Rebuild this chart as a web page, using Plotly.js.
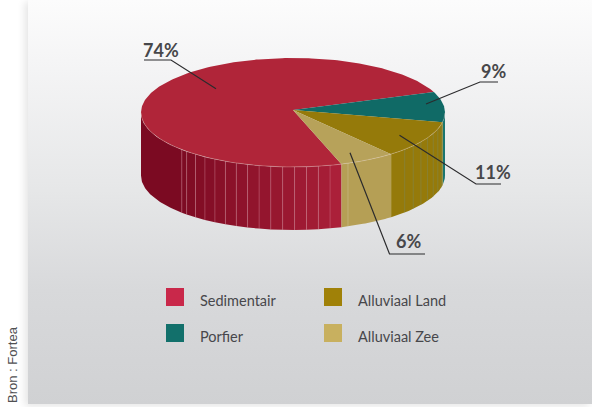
<!DOCTYPE html>
<html><head><meta charset="utf-8">
<script src="https://cdn.plot.ly/plotly-3.0.1.min.js"></script>
<style>
html,body{margin:0;padding:0;background:#fff;overflow:hidden}
#panel{position:absolute;left:28px;top:0;width:564px;height:404px;
background:linear-gradient(to bottom,#fcfcfc 0px,#f5f5f6 60px,#e6e7e8 190px,#d8d9db 290px,#d0d1d3 404px);
box-shadow:-3px 2px 8px rgba(0,0,0,.11)}
#chart{position:absolute;left:0;top:0;width:592px;height:407px}
</style></head><body>
<div id="panel"></div><div id="chart"></div>
<script>
const categories = ["Sedimentair", "Porfier", "Alluviaal Land", "Alluviaal Zee"];
const shares = [74, 9, 11, 6];
const shareLabels = ["74%", "9%", "11%", "6%"];
const topColors = ["#b02539", "#106a66", "#957a0a", "#b7a25a"];
const keyColors = ["#c9284a", "#12706b", "#a08108", "#c8b05f"];

const W = 592, H = 407;
const cx = 293, cy = 112.5, rx = 152, ry = 54.5, depth = 63;
const apexY = 110, startAngle = 71.4;
const rad = d => d * Math.PI / 180;
const total = shares.reduce((a, b) => a + b, 0);
const ex = a => cx + rx * Math.cos(rad(a));
const ey = (a, off) => cy + ry * Math.sin(rad(a)) + (off || 0);

function arc(a1, a2, off) {
  const xs = [], ys = [], n = Math.max(2, Math.ceil(Math.abs(a2 - a1)));
  for (let i = 0; i <= n; i++) { const a = a1 + (a2 - a1) * i / n; xs.push(ex(a)); ys.push(ey(a, off)); }
  return [xs, ys];
}
const traces = [];
function poly(xs, ys, color) {
  traces.push({type: "scatter", mode: "lines", x: xs, y: ys, fill: "toself", fillcolor: color,
    line: {width: 0, color: color}, hoverinfo: "skip", showlegend: false});
}
function stroke(xs, ys, color, w) {
  traces.push({type: "scatter", mode: "lines", x: xs, y: ys, line: {width: w, color: color},
    hoverinfo: "skip", showlegend: false});
}
function wall(a1, a2, color) {
  const t = arc(a1, a2, 0), b = arc(a2, a1, depth);
  poly(t[0].concat(b[0], [t[0][0]]), t[1].concat(b[1], [t[1][0]]), color);
}
function seam(a, color) { stroke([ex(a), ex(a)], [ey(a, 0), ey(a, depth)], color, 1); }
function mix(c1, c2, t) { return "rgb(" + c1.map((v, i) => Math.round(v + (c2[i] - v) * t)).join(",") + ")"; }

// slice boundaries, clockwise on screen
const bounds = []; let acc = startAngle;
shares.forEach(v => { const s = v / total * 360; bounds.push([acc, acc + s]); acc += s; });
const tealEnd = bounds[1][1] - 360, landEnd = bounds[2][1] - 360, zeeEnd = bounds[3][1] - 360;

// side wall, red part: facets from the tan edge to the dark left part
const redStep = 4.5, redFacetEnd = 137;
const redLight = [171, 32, 57], redDark = [124, 10, 34];
wall(redFacetEnd, 180, "#7b0a22");
for (let a = zeeEnd, i = 0; a < redFacetEnd - 0.1; a += redStep, i++) {
  const e = Math.min(a + redStep, redFacetEnd);
  wall(a, e, mix(redLight, redDark, Math.pow((a - zeeEnd) / (redFacetEnd - zeeEnd), 0.8)));
  if (i > 0) seam(a, "rgba(225,150,165,.3)");
}
seam(redFacetEnd, "rgba(225,150,165,.35)");
// teal, land and sea parts
wall(0, tealEnd, "#1a7670");
wall(tealEnd, landEnd, "#957a0a");
for (let a = tealEnd + 2.5; a < landEnd - 5; a += 5) seam(a, "rgba(120,140,110,.4)");
wall(landEnd, zeeEnd, "#b59f55");
seam(zeeEnd - 2.6, "rgba(215,205,165,.4)");

// top face
bounds.forEach((b, i) => {
  const a = arc(b[0], b[1], 0);
  poly([cx].concat(a[0], [cx]), [apexY].concat(a[1], [apexY]), topColors[i]);
});
// highlight on the front rim
const rim = arc(0, 180, 0); stroke(rim[0], rim[1], "rgba(235,215,205,.4)", 0.8);

// leader lines and labels
const leaders = [
  {t: 0, path: "M144,60 L171,60 L216,88.7", lx: 161, ly: 50},
  {t: 1, path: "M498,82 L480,82 L426,104", lx: 493, ly: 71},
  {t: 2, path: "M501,184 L476,184 L399.5,135.3", lx: 492.5, ly: 171.5},
  {t: 3, path: "M425,254 L389.5,254 L350,152.7", lx: 408, ly: 241}
];
const shapes = [], annotations = [];
leaders.forEach(l => {
  shapes.push({type: "path", xref: "x", yref: "y", path: l.path, line: {color: "#2b2b2d", width: 1.2}});
  annotations.push({xref: "x", yref: "y", x: l.lx, y: l.ly, text: "<b>" + shareLabels[l.t] + "</b>", showarrow: false,
    xanchor: "center", yanchor: "middle", font: {family: "Lato", size: 18, color: "#47474a"}});
});

// key
const keySpots = [[166, 288], [166, 324], [324, 288], [324, 324]];
categories.forEach((c, i) => {
  const [kx, ky] = keySpots[i];
  shapes.push({type: "rect", xref: "x", yref: "y", x0: kx, x1: kx + 18, y0: ky, y1: ky + 18,
    fillcolor: keyColors[i], line: {width: 0}});
  annotations.push({xref: "x", yref: "y", x: kx + 32, y: ky + 12.7, text: c, showarrow: false,
    xanchor: "left", yanchor: "middle", font: {family: "Lato", size: 14.5, color: "#47474b"}});
});
// source
annotations.push({xref: "x", yref: "y", x: 12, y: 365, text: "Bron : Fortea", textangle: -90, showarrow: false,
  xanchor: "center", yanchor: "middle", font: {family: "Liberation Sans", size: 13, color: "#505052"}});

Plotly.newPlot("chart", traces, {
  width: W, height: H, margin: {l: 0, r: 0, t: 0, b: 0},
  paper_bgcolor: "rgba(0,0,0,0)", plot_bgcolor: "rgba(0,0,0,0)", showlegend: false,
  xaxis: {range: [0, W], visible: false, fixedrange: true},
  yaxis: {range: [H, 0], visible: false, fixedrange: true},
  shapes, annotations
}, {displayModeBar: false, staticPlot: true});
</script></body></html>
